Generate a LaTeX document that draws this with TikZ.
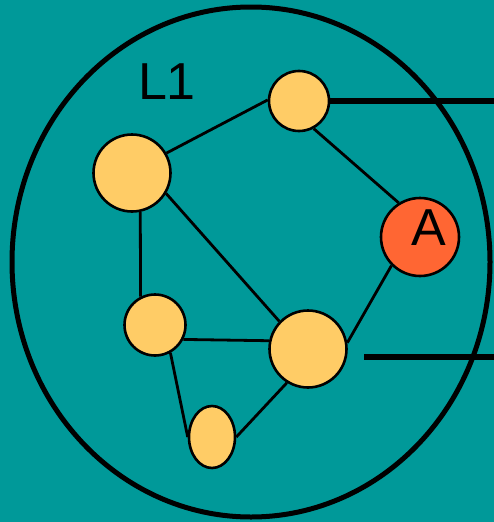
\documentclass[tikz,border=0pt]{standalone}
\usepackage{fontspec}
\setmainfont{Liberation Sans}
\usetikzlibrary{shapes.geometric, positioning}

\definecolor{bgteal}{HTML}{009999}
\definecolor{peerfill}{HTML}{FFCC66}
\definecolor{afill}{HTML}{FF6633}

\begin{document}
\begin{tikzpicture}[
    x=1pt, y=-1pt,
    peer/.style={
      circle, draw=black, line width=2.6pt,
      fill=peerfill, inner sep=0pt
    },
    link/.style={line width=2.8pt},
    uplink/.style={line width=5.5pt},
    bigfont/.style={font=\fontsize{52}{60}\selectfont}
  ]
  \fill[bgteal] (0,0) rectangle (494,522);
  \useasboundingbox (0,0) rectangle (494,522);

  \draw[line width=5pt] (251,262) ellipse [x radius=239pt, y radius=255pt];
  \node[bigfont] (lone) at (167,82) {L1};

  \node[peer, minimum size=60pt]          (top)   at (299,101) {};
  \node[peer, minimum size=77pt]          (left)  at (132,173) {};
  \node[peer, minimum size=78pt, fill=afill,
        label={[bigfont, xshift=9pt, yshift=9pt]center:A}] (pa) at (420,237) {};
  \node[peer, minimum size=61pt]          (mid)   at (155,325) {};
  \node[peer, minimum size=77pt]          (low)   at (308,349) {};
  \node[peer, ellipse, minimum width=46pt, minimum height=62pt] (bot) at (212,437) {};

  \coordinate (outa) at (494,101);
  \coordinate (inb)  at (364,357);
  \coordinate (outb) at (494,357);

  \draw[link] (left.30)  -- (top.178);
  \draw[link] (top.-62)  -- (pa.122);
  \draw[link] (left.-31) -- (low.136);
  \draw[link] (left.-78) -- (mid.117);
  \draw[link] (mid.-27)  -- (low.168);
  \draw[link] (pa.225)   -- (low.9);
  \draw[link] (mid.-61)  -- (bot.180);
  \draw[link] (bot.0)    -- (low.238);

  \draw[uplink] (top.east) -- (outa);
  \draw[uplink] (inb) -- (outb);
\end{tikzpicture}
\end{document}
